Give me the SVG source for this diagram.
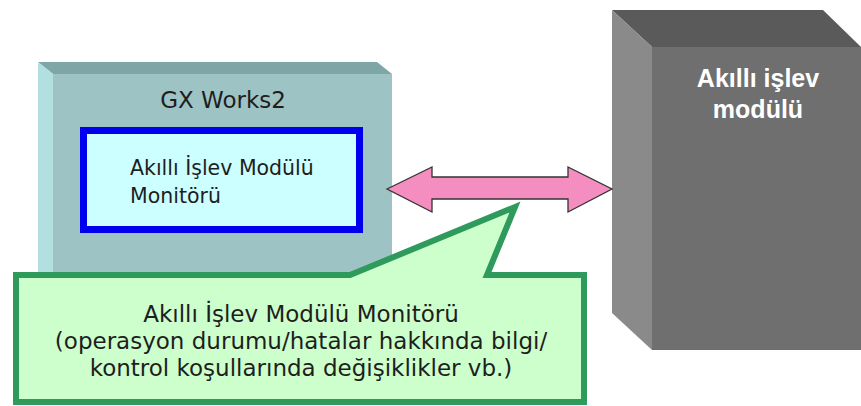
<svg xmlns="http://www.w3.org/2000/svg" width="861" height="406" viewBox="0 0 861 406">
<defs>
<style>
.t{font-family:"DejaVu Sans","Open Sans",sans-serif;font-size:23px;fill:#1e1e1e}
.s{font-size:20.5px}
.w{font-family:"Liberation Sans","Arial",sans-serif;font-weight:bold;font-size:25px;fill:#ffffff;text-anchor:middle}
</style>
</defs>
<rect width="861" height="406" fill="#ffffff"/>
<g id="gxworks">
<polygon points="38,62 377,62 392,74 53,74" fill="#7fa6a7"/>
<polygon points="38,62 53,74 53,275 38,275" fill="#b2dfe0"/>
<rect x="53" y="74" width="339" height="201" fill="#9dc3c4"/>
<text class="t" x="223" y="108" text-anchor="middle">GX Works2</text>
</g>
<g id="monitor">
<rect x="83.5" y="130.5" width="276" height="99" fill="#ccffff" stroke="#0000ee" stroke-width="7"/>
<text class="t s" x="130" y="175">Akıllı İşlev Modülü</text>
<text class="t s" x="130" y="203">Monitörü</text>
</g>
<g id="module">
<polygon points="612,10 823,10 861,47 652,47" fill="#5a5a5a"/>
<polygon points="612,10 652,47 652,350 612,313" fill="#8a8a8a"/>
<rect x="652" y="47" width="209" height="303" fill="#6f6f6f"/>
<text class="w" x="758" y="87">Akıllı işlev</text>
<text class="w" x="758" y="118">modülü</text>
</g>
<g id="connectors">
<polygon points="387,189 432,167 432,177 568,177 568,167 612,189 568,212 568,199 432,199 432,212" fill="#f58ec0" stroke="#333333" stroke-width="1.3" stroke-linejoin="miter"/>
</g>
<g id="callout">
<path d="M16,275 H350 L515,207 L487,275 H584 V402 H16 Z" fill="#ccffcc" stroke="#2e9a5c" stroke-width="6" stroke-linejoin="miter"/>
<text class="t" x="301" y="322" text-anchor="middle">Akıllı İşlev Modülü Monitörü</text>
<text class="t" x="301" y="349" text-anchor="middle">(operasyon durumu/hatalar hakkında bilgi/</text>
<text class="t" x="301" y="376" text-anchor="middle">kontrol koşullarında değişiklikler vb.)</text>
</g>
</svg>
